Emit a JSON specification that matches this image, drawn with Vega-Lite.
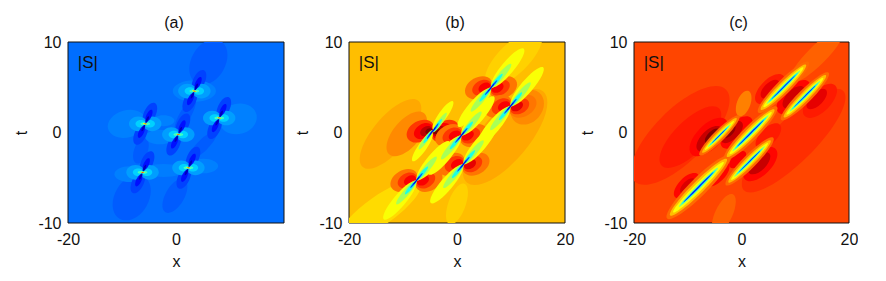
{"$schema":"https://vega.github.io/schema/vega-lite/v6.json","background":"white","padding":{"left":13,"top":15,"right":0,"bottom":0},"bounds":"flush","spacing":65,
"config":{"view":{"stroke":null},"font":"Liberation Sans","axis":{"grid":false,"labelFontSize":16,"titleFontSize":16,"titleFontWeight":"normal","labelColor":"#111","titleColor":"#111","tickSize":0,"labelPadding":7,"titlePadding":8,"domain":false,"labelFlush":false,"labelExpr":"replace(datum.label,'\u2212','-')"},"axisX":{"labelPadding":8,"titlePadding":6},"title":{"fontSize":16,"fontWeight":"normal","color":"#111","offset":3}},
"datasets":{
"bgA":[{"x":-20,"x2":20,"t":-10,"t2":10,"v":0.233}],
"bgB":[{"x":-20,"x2":20,"t":-10,"t2":10,"v":0.689}],
"bgC":[{"x":-20,"x2":20,"t":-10,"t2":10,"v":0.807}],
"lab":[{"x":-18.2,"t":7.7,"label":"|S|"}],
"a":[
{"x":6,"t":7.8,"len":4.5,"kind":"e7","deg":300,"v":0.215},{"x":-8.2,"t":-7.2,"len":4.5,"kind":"e7","deg":300,"v":0.215},{"x":-0.2,"t":-7,"len":3.5,"kind":"e5","deg":300,"v":0.215},{"x":1.7,"t":1.9,"len":3.5,"kind":"e3","deg":300,"v":0.215},{"x":5,"t":-1.4,"len":3.5,"kind":"e3","deg":315,"v":0.215},{"x":-6.5,"t":-2,"len":2.5,"kind":"e5","deg":290,"v":0.215},
{"x":-9.1,"t":0.96,"len":3.6,"kind":"e7","deg":345,"v":0.25},{"x":11.5,"t":1.5,"len":3.5,"kind":"e8","deg":345,"v":0.25},{"x":-8.5,"t":-4.6,"len":2.9,"kind":"e5","deg":0,"v":0.25},{"x":-2.3,"t":-4.2,"len":4,"kind":"e3","deg":0,"v":0.248},{"x":5.1,"t":-3.7,"len":2.7,"kind":"e5","deg":0,"v":0.25},{"x":3.4,"t":4.58,"len":4,"kind":"e5","deg":0,"v":0.25},{"x":-3,"t":-0.5,"len":2.7,"kind":"e5","deg":0,"v":0.25},{"x":-2.3,"t":1.3,"len":2,"kind":"e5","deg":0,"v":0.25},
{"x":-4.85,"t":2.06,"len":2.2,"kind":"e5","deg":295,"v":0.19},{"x":-6.55,"t":-0.14,"len":2.2,"kind":"e5","deg":295,"v":0.19},{"x":-7,"t":0.96,"len":1.7,"kind":"e8","deg":0,"v":0.28},{"x":-4.4,"t":0.96,"len":1.7,"kind":"e8","deg":0,"v":0.28},{"x":-6.5,"t":0.96,"len":1,"kind":"e7","deg":0,"v":0.33},{"x":-4.9,"t":0.96,"len":1,"kind":"e7","deg":0,"v":0.33},{"x":-6.1,"t":0.96,"len":0.5,"kind":"e5","deg":0,"v":0.45},{"x":-5.3,"t":0.96,"len":0.5,"kind":"e5","deg":0,"v":0.45},{"x":-5,"t":1.86,"len":1.2,"kind":"e4","deg":295,"v":0.14},{"x":-6.4,"t":0.06,"len":1.2,"kind":"e4","deg":295,"v":0.14},{"x":-5.35,"t":1.41,"len":0.7,"kind":"e3","deg":295,"v":0.06},{"x":-6.05,"t":0.51,"len":0.7,"kind":"e3","deg":295,"v":0.06},{"x":-5.7,"t":0.96,"len":0.7,"kind":"e3","deg":10,"v":0.4},{"x":-5.7,"t":0.96,"len":0.45,"kind":"e25","deg":10,"v":0.62},{"x":-5.7,"t":0.96,"len":0.25,"kind":"e25","deg":10,"v":0.85},
{"x":4.25,"t":5.68,"len":2.2,"kind":"e5","deg":295,"v":0.19},{"x":2.55,"t":3.48,"len":2.2,"kind":"e5","deg":295,"v":0.19},{"x":2.1,"t":4.58,"len":1.7,"kind":"e8","deg":0,"v":0.28},{"x":4.7,"t":4.58,"len":1.7,"kind":"e8","deg":0,"v":0.28},{"x":2.6,"t":4.58,"len":1,"kind":"e7","deg":0,"v":0.33},{"x":4.2,"t":4.58,"len":1,"kind":"e7","deg":0,"v":0.33},{"x":3,"t":4.58,"len":0.5,"kind":"e5","deg":0,"v":0.45},{"x":3.8,"t":4.58,"len":0.5,"kind":"e5","deg":0,"v":0.45},{"x":4.1,"t":5.48,"len":1.2,"kind":"e4","deg":295,"v":0.14},{"x":2.7,"t":3.68,"len":1.2,"kind":"e4","deg":295,"v":0.14},{"x":3.75,"t":5.03,"len":0.7,"kind":"e3","deg":295,"v":0.06},{"x":3.05,"t":4.13,"len":0.7,"kind":"e3","deg":295,"v":0.06},{"x":3.4,"t":4.58,"len":0.7,"kind":"e3","deg":10,"v":0.4},{"x":3.4,"t":4.58,"len":0.45,"kind":"e25","deg":10,"v":0.62},{"x":3.4,"t":4.58,"len":0.25,"kind":"e25","deg":10,"v":0.85},
{"x":8.85,"t":2.7,"len":2.2,"kind":"e5","deg":295,"v":0.19},{"x":7.15,"t":0.5,"len":2.2,"kind":"e5","deg":295,"v":0.19},{"x":6.7,"t":1.6,"len":1.7,"kind":"e8","deg":0,"v":0.28},{"x":9.3,"t":1.6,"len":1.7,"kind":"e8","deg":0,"v":0.28},{"x":7.2,"t":1.6,"len":1,"kind":"e7","deg":0,"v":0.33},{"x":8.8,"t":1.6,"len":1,"kind":"e7","deg":0,"v":0.33},{"x":7.6,"t":1.6,"len":0.5,"kind":"e5","deg":0,"v":0.45},{"x":8.4,"t":1.6,"len":0.5,"kind":"e5","deg":0,"v":0.45},{"x":8.7,"t":2.5,"len":1.2,"kind":"e4","deg":295,"v":0.14},{"x":7.3,"t":0.7,"len":1.2,"kind":"e4","deg":295,"v":0.14},{"x":8.35,"t":2.05,"len":0.7,"kind":"e3","deg":295,"v":0.06},{"x":7.65,"t":1.15,"len":0.7,"kind":"e3","deg":295,"v":0.06},{"x":8,"t":1.6,"len":0.7,"kind":"e3","deg":10,"v":0.4},{"x":8,"t":1.6,"len":0.45,"kind":"e25","deg":10,"v":0.62},{"x":8,"t":1.6,"len":0.25,"kind":"e25","deg":10,"v":0.85},
{"x":1.28,"t":0.88,"len":2.2,"kind":"e5","deg":295,"v":0.19},{"x":-0.42,"t":-1.32,"len":2.2,"kind":"e5","deg":295,"v":0.19},{"x":-0.87,"t":-0.22,"len":1.7,"kind":"e8","deg":0,"v":0.28},{"x":1.73,"t":-0.22,"len":1.7,"kind":"e8","deg":0,"v":0.28},{"x":-0.37,"t":-0.22,"len":1,"kind":"e7","deg":0,"v":0.33},{"x":1.23,"t":-0.22,"len":1,"kind":"e7","deg":0,"v":0.33},{"x":0.03,"t":-0.22,"len":0.5,"kind":"e5","deg":0,"v":0.45},{"x":0.83,"t":-0.22,"len":0.5,"kind":"e5","deg":0,"v":0.45},{"x":1.13,"t":0.68,"len":1.2,"kind":"e4","deg":295,"v":0.14},{"x":-0.27,"t":-1.12,"len":1.2,"kind":"e4","deg":295,"v":0.14},{"x":0.78,"t":0.23,"len":0.7,"kind":"e3","deg":295,"v":0.06},{"x":0.08,"t":-0.67,"len":0.7,"kind":"e3","deg":295,"v":0.06},{"x":0.43,"t":-0.22,"len":0.7,"kind":"e3","deg":10,"v":0.4},{"x":0.43,"t":-0.22,"len":0.45,"kind":"e25","deg":10,"v":0.62},{"x":0.43,"t":-0.22,"len":0.25,"kind":"e25","deg":10,"v":0.85},
{"x":-5.35,"t":-3.3,"len":2.2,"kind":"e5","deg":295,"v":0.19},{"x":-7.05,"t":-5.5,"len":2.2,"kind":"e5","deg":295,"v":0.19},{"x":-7.5,"t":-4.4,"len":1.7,"kind":"e8","deg":0,"v":0.28},{"x":-4.9,"t":-4.4,"len":1.7,"kind":"e8","deg":0,"v":0.28},{"x":-7,"t":-4.4,"len":1,"kind":"e7","deg":0,"v":0.33},{"x":-5.4,"t":-4.4,"len":1,"kind":"e7","deg":0,"v":0.33},{"x":-6.6,"t":-4.4,"len":0.5,"kind":"e5","deg":0,"v":0.45},{"x":-5.8,"t":-4.4,"len":0.5,"kind":"e5","deg":0,"v":0.45},{"x":-5.5,"t":-3.5,"len":1.2,"kind":"e4","deg":295,"v":0.14},{"x":-6.9,"t":-5.3,"len":1.2,"kind":"e4","deg":295,"v":0.14},{"x":-5.85,"t":-3.95,"len":0.7,"kind":"e3","deg":295,"v":0.06},{"x":-6.55,"t":-4.85,"len":0.7,"kind":"e3","deg":295,"v":0.06},{"x":-6.2,"t":-4.4,"len":0.7,"kind":"e3","deg":10,"v":0.4},{"x":-6.2,"t":-4.4,"len":0.45,"kind":"e25","deg":10,"v":0.62},{"x":-6.2,"t":-4.4,"len":0.25,"kind":"e25","deg":10,"v":0.85},
{"x":3.15,"t":-2.8,"len":2.2,"kind":"e5","deg":295,"v":0.19},{"x":1.45,"t":-5,"len":2.2,"kind":"e5","deg":295,"v":0.19},{"x":1,"t":-3.9,"len":1.7,"kind":"e8","deg":0,"v":0.28},{"x":3.6,"t":-3.9,"len":1.7,"kind":"e8","deg":0,"v":0.28},{"x":1.5,"t":-3.9,"len":1,"kind":"e7","deg":0,"v":0.33},{"x":3.1,"t":-3.9,"len":1,"kind":"e7","deg":0,"v":0.33},{"x":1.9,"t":-3.9,"len":0.5,"kind":"e5","deg":0,"v":0.45},{"x":2.7,"t":-3.9,"len":0.5,"kind":"e5","deg":0,"v":0.45},{"x":3,"t":-3,"len":1.2,"kind":"e4","deg":295,"v":0.14},{"x":1.6,"t":-4.8,"len":1.2,"kind":"e4","deg":295,"v":0.14},{"x":2.65,"t":-3.45,"len":0.7,"kind":"e3","deg":295,"v":0.06},{"x":1.95,"t":-4.35,"len":0.7,"kind":"e3","deg":295,"v":0.06},{"x":2.3,"t":-3.9,"len":0.7,"kind":"e3","deg":10,"v":0.4},{"x":2.3,"t":-3.9,"len":0.45,"kind":"e25","deg":10,"v":0.62},{"x":2.3,"t":-3.9,"len":0.25,"kind":"e25","deg":10,"v":0.85}
],
"b":[
{"x":-12.3,"t":-0.15,"len":8,"kind":"e4","deg":310,"v":0.71},{"x":8.9,"t":-0.5,"len":11,"kind":"e4","deg":310,"v":0.71},{"x":-9.3,"t":-0.15,"len":5,"kind":"e5","deg":310,"v":0.74},{"x":13,"t":2.8,"len":3.5,"kind":"e8","deg":310,"v":0.74},{"x":-14.2,"t":-8.6,"len":9,"kind":"e3","deg":325,"v":0.66},{"x":10.5,"t":8.2,"len":7,"kind":"e4","deg":315,"v":0.67},{"x":0,"t":-7.9,"len":4,"kind":"e4","deg":290,"v":0.67},
{"x":-6.8,"t":0.15,"len":2.7,"kind":"e7","deg":330,"v":0.82},{"x":-2.2,"t":0.15,"len":2.7,"kind":"e7","deg":330,"v":0.82},{"x":-6.2,"t":0.15,"len":1.9,"kind":"e7","deg":330,"v":0.88},{"x":-2.8,"t":0.15,"len":1.9,"kind":"e7","deg":330,"v":0.88},{"x":-5.7,"t":0.15,"len":1.2,"kind":"e7","deg":330,"v":0.94},{"x":-3.3,"t":0.15,"len":1.2,"kind":"e7","deg":330,"v":0.94},{"x":-5.2,"t":0.15,"len":0.7,"kind":"e7","deg":330,"v":1},{"x":-3.8,"t":0.15,"len":0.7,"kind":"e7","deg":330,"v":1},
{"x":4,"t":4.95,"len":2.7,"kind":"e7","deg":330,"v":0.76},{"x":8.6,"t":4.95,"len":2.7,"kind":"e7","deg":330,"v":0.76},{"x":4.6,"t":4.95,"len":1.9,"kind":"e7","deg":330,"v":0.82},{"x":8,"t":4.95,"len":1.9,"kind":"e7","deg":330,"v":0.82},{"x":5.1,"t":4.95,"len":1.2,"kind":"e7","deg":330,"v":0.88},{"x":7.5,"t":4.95,"len":1.2,"kind":"e7","deg":330,"v":0.88},
{"x":7.6,"t":2.9,"len":2.7,"kind":"e7","deg":330,"v":0.76},{"x":12.2,"t":2.9,"len":2.7,"kind":"e7","deg":330,"v":0.76},{"x":8.2,"t":2.9,"len":1.9,"kind":"e7","deg":330,"v":0.82},{"x":11.6,"t":2.9,"len":1.9,"kind":"e7","deg":330,"v":0.82},{"x":8.7,"t":2.9,"len":1.2,"kind":"e7","deg":330,"v":0.88},{"x":11.1,"t":2.9,"len":1.2,"kind":"e7","deg":330,"v":0.9},
{"x":-1.5,"t":-0.33,"len":2.7,"kind":"e7","deg":330,"v":0.76},{"x":3.1,"t":-0.33,"len":2.7,"kind":"e7","deg":330,"v":0.76},{"x":-0.9,"t":-0.33,"len":1.9,"kind":"e7","deg":330,"v":0.82},{"x":2.5,"t":-0.33,"len":1.9,"kind":"e7","deg":330,"v":0.82},{"x":-0.4,"t":-0.33,"len":1.2,"kind":"e7","deg":330,"v":0.88},{"x":2,"t":-0.33,"len":1.2,"kind":"e7","deg":330,"v":0.88},
{"x":-9.8,"t":-5.3,"len":2.7,"kind":"e7","deg":330,"v":0.76},{"x":-5.2,"t":-5.3,"len":2.7,"kind":"e7","deg":330,"v":0.76},{"x":-9.2,"t":-5.3,"len":1.9,"kind":"e7","deg":330,"v":0.82},{"x":-5.8,"t":-5.3,"len":1.9,"kind":"e7","deg":330,"v":0.82},{"x":-8.7,"t":-5.3,"len":1.2,"kind":"e7","deg":330,"v":0.88},{"x":-6.3,"t":-5.3,"len":1.2,"kind":"e7","deg":330,"v":0.88},
{"x":-1.1,"t":-3.5,"len":2.7,"kind":"e7","deg":330,"v":0.76},{"x":3.5,"t":-3.5,"len":2.7,"kind":"e7","deg":330,"v":0.76},{"x":-0.5,"t":-3.5,"len":1.9,"kind":"e7","deg":330,"v":0.82},{"x":2.9,"t":-3.5,"len":1.9,"kind":"e7","deg":330,"v":0.82},{"x":0,"t":-3.5,"len":1.2,"kind":"e7","deg":330,"v":0.88},{"x":2.4,"t":-3.5,"len":1.2,"kind":"e7","deg":330,"v":0.9},
{"x":-2.6,"t":1.9,"len":3.2,"kind":"e25","deg":305,"v":0.62},{"x":-6.4,"t":-1.6,"len":3.2,"kind":"e25","deg":305,"v":0.62},{"x":9.4,"t":7.15,"len":4.6,"kind":"e25","deg":310,"v":0.62},{"x":3.2,"t":2.75,"len":4.6,"kind":"e25","deg":310,"v":0.62},{"x":13,"t":5.1,"len":4.6,"kind":"e25","deg":310,"v":0.62},{"x":6.8,"t":0.7,"len":4.6,"kind":"e25","deg":310,"v":0.62},{"x":3.9,"t":1.87,"len":4.6,"kind":"e25","deg":310,"v":0.62},{"x":-2.3,"t":-2.53,"len":4.6,"kind":"e25","deg":310,"v":0.62},{"x":-4.4,"t":-3.1,"len":4.6,"kind":"e25","deg":310,"v":0.62},{"x":-10.6,"t":-7.5,"len":4.6,"kind":"e25","deg":310,"v":0.62},{"x":4.3,"t":-1.3,"len":4.6,"kind":"e25","deg":310,"v":0.62},{"x":-1.9,"t":-5.7,"len":4.6,"kind":"e25","deg":310,"v":0.62},
{"x":-3.2,"t":1.1,"len":2.2,"kind":"e2","deg":305,"v":0.54},{"x":-5.8,"t":-0.8,"len":2.2,"kind":"e2","deg":305,"v":0.54},{"x":8.15,"t":6.25,"len":2.9,"kind":"e2","deg":310,"v":0.54},{"x":4.45,"t":3.65,"len":2.9,"kind":"e2","deg":310,"v":0.54},{"x":11.75,"t":4.2,"len":2.9,"kind":"e2","deg":310,"v":0.54},{"x":8.05,"t":1.6,"len":2.9,"kind":"e2","deg":310,"v":0.54},{"x":2.65,"t":0.97,"len":2.9,"kind":"e2","deg":310,"v":0.54},{"x":-1.05,"t":-1.63,"len":2.9,"kind":"e2","deg":310,"v":0.54},{"x":-5.65,"t":-4,"len":2.9,"kind":"e2","deg":310,"v":0.54},{"x":-9.35,"t":-6.6,"len":2.9,"kind":"e2","deg":310,"v":0.54},{"x":3.05,"t":-2.2,"len":2.9,"kind":"e2","deg":310,"v":0.54},{"x":-0.65,"t":-4.8,"len":2.9,"kind":"e2","deg":310,"v":0.54},
{"x":-3.6,"t":0.8,"len":1.4,"kind":"e2","deg":305,"v":0.4},{"x":-5.4,"t":-0.5,"len":1.4,"kind":"e2","deg":305,"v":0.4},{"x":7.4,"t":5.75,"len":1.6,"kind":"e2","deg":310,"v":0.4},{"x":5.2,"t":4.15,"len":1.6,"kind":"e2","deg":310,"v":0.4},{"x":11,"t":3.7,"len":1.6,"kind":"e2","deg":310,"v":0.4},{"x":8.8,"t":2.1,"len":1.6,"kind":"e2","deg":310,"v":0.4},{"x":1.9,"t":0.47,"len":1.6,"kind":"e2","deg":310,"v":0.4},{"x":-0.3,"t":-1.13,"len":1.6,"kind":"e2","deg":310,"v":0.4},{"x":-6.4,"t":-4.5,"len":1.6,"kind":"e2","deg":310,"v":0.4},{"x":-8.6,"t":-6.1,"len":1.6,"kind":"e2","deg":310,"v":0.4},{"x":2.3,"t":-2.7,"len":1.6,"kind":"e2","deg":310,"v":0.4},{"x":0.1,"t":-4.3,"len":1.6,"kind":"e2","deg":310,"v":0.4},
{"x":-4,"t":0.52,"len":1,"kind":"e15","deg":305,"v":0.2},{"x":-5,"t":-0.22,"len":1,"kind":"e15","deg":305,"v":0.2},{"x":6.8,"t":5.32,"len":1,"kind":"e15","deg":310,"v":0.2},{"x":5.8,"t":4.58,"len":1,"kind":"e15","deg":310,"v":0.2},{"x":10.4,"t":3.27,"len":1,"kind":"e15","deg":310,"v":0.2},{"x":9.4,"t":2.53,"len":1,"kind":"e15","deg":310,"v":0.2},{"x":1.3,"t":0.04,"len":1,"kind":"e15","deg":310,"v":0.2},{"x":0.3,"t":-0.7,"len":1,"kind":"e15","deg":310,"v":0.2},{"x":-7,"t":-4.93,"len":1,"kind":"e15","deg":310,"v":0.2},{"x":-8,"t":-5.67,"len":1,"kind":"e15","deg":310,"v":0.2},{"x":1.7,"t":-3.13,"len":1,"kind":"e15","deg":310,"v":0.2},{"x":0.7,"t":-3.87,"len":1,"kind":"e15","deg":310,"v":0.2},
{"x":-4.25,"t":0.33,"len":0.55,"kind":"e15","deg":305,"v":0.08},{"x":-4.75,"t":-0.03,"len":0.55,"kind":"e15","deg":305,"v":0.08},{"x":6.55,"t":5.13,"len":0.55,"kind":"e15","deg":310,"v":0.08},{"x":6.05,"t":4.77,"len":0.55,"kind":"e15","deg":310,"v":0.08},{"x":10.15,"t":3.08,"len":0.55,"kind":"e15","deg":310,"v":0.08},{"x":9.65,"t":2.72,"len":0.55,"kind":"e15","deg":310,"v":0.08},{"x":1.05,"t":-0.15,"len":0.55,"kind":"e15","deg":310,"v":0.08},{"x":0.55,"t":-0.51,"len":0.55,"kind":"e15","deg":310,"v":0.08},{"x":-7.25,"t":-5.12,"len":0.55,"kind":"e15","deg":310,"v":0.08},{"x":-7.75,"t":-5.48,"len":0.55,"kind":"e15","deg":310,"v":0.08},{"x":1.45,"t":-3.32,"len":0.55,"kind":"e15","deg":310,"v":0.08},{"x":0.95,"t":-3.68,"len":0.55,"kind":"e15","deg":310,"v":0.08}
],
"c":[
{"x":-11.4,"t":-0.33,"len":12,"kind":"e4","deg":315,"v":0.83},{"x":9.7,"t":-0.9,"len":13,"kind":"e3","deg":315,"v":0.83},{"x":-9.5,"t":-0.5,"len":7.5,"kind":"e4","deg":315,"v":0.85},{"x":14,"t":8.5,"len":7,"kind":"e25","deg":315,"v":0.78},{"x":-3.3,"t":-9,"len":4,"kind":"e4","deg":295,"v":0.78},{"x":0.4,"t":3.2,"len":2.5,"kind":"e5","deg":290,"v":0.75},
{"x":-6.1,"t":-0.5,"len":4.5,"kind":"e5","deg":315,"v":0.87},{"x":-6,"t":-0.7,"len":3,"kind":"e5","deg":315,"v":0.93},{"x":-5.4,"t":-0.4,"len":1.8,"kind":"e5","deg":315,"v":1},{"x":-0.9,"t":0,"len":3.8,"kind":"e5","deg":315,"v":0.87},{"x":-1.8,"t":0.04,"len":2.6,"kind":"e5","deg":315,"v":0.93},{"x":-2.3,"t":0.1,"len":1.5,"kind":"e5","deg":315,"v":0.98},
{"x":5.3,"t":4.8,"len":3.5,"kind":"e5","deg":315,"v":0.85},{"x":5.3,"t":4.8,"len":2.2,"kind":"e5","deg":315,"v":0.9},{"x":9.7,"t":3.9,"len":4,"kind":"e5","deg":315,"v":0.87},{"x":9.7,"t":3.9,"len":2.6,"kind":"e5","deg":315,"v":0.92},{"x":14.6,"t":3.5,"len":4,"kind":"e5","deg":315,"v":0.85},{"x":14,"t":3.7,"len":2.4,"kind":"e5","deg":315,"v":0.9},
{"x":3.5,"t":-3.5,"len":4,"kind":"e5","deg":315,"v":0.87},{"x":3.3,"t":-3.4,"len":2.6,"kind":"e5","deg":315,"v":0.93},{"x":-0.7,"t":-3,"len":2,"kind":"e5","deg":315,"v":0.88},{"x":-10.2,"t":-5.9,"len":3,"kind":"e5","deg":315,"v":0.87},{"x":-10,"t":-5.9,"len":1.8,"kind":"e5","deg":315,"v":0.91},{"x":-4.6,"t":-4.6,"len":3,"kind":"e5","deg":315,"v":0.87},{"x":5,"t":-0.4,"len":3,"kind":"e5","deg":315,"v":0.85},
{"x":-4.1,"t":-0.33,"len":5.2,"kind":"e2","deg":315,"v":0.77},{"x":7.8,"t":5,"len":6.6,"kind":"e2","deg":315,"v":0.77},{"x":11.8,"t":4,"len":6.2,"kind":"e2","deg":315,"v":0.77},{"x":1.7,"t":-0.07,"len":6.9,"kind":"e2","deg":315,"v":0.77},{"x":-8,"t":-6.05,"len":8.2,"kind":"e2","deg":315,"v":0.77},{"x":1.5,"t":-3.2,"len":6.2,"kind":"e2","deg":315,"v":0.77},
{"x":-4.1,"t":-0.33,"len":4.5,"kind":"e15","deg":315,"v":0.69},{"x":7.8,"t":5,"len":5.9,"kind":"e15","deg":315,"v":0.69},{"x":11.8,"t":4,"len":5.5,"kind":"e15","deg":315,"v":0.69},{"x":1.7,"t":-0.07,"len":6.2,"kind":"e15","deg":315,"v":0.69},{"x":-8,"t":-6.05,"len":7.4,"kind":"e15","deg":315,"v":0.69},{"x":1.5,"t":-3.2,"len":5.5,"kind":"e15","deg":315,"v":0.69},
{"x":-4.1,"t":-0.33,"len":3.8,"kind":"e1","deg":315,"v":0.62},{"x":7.8,"t":5,"len":5.2,"kind":"e1","deg":315,"v":0.62},{"x":11.8,"t":4,"len":4.8,"kind":"e1","deg":315,"v":0.62},{"x":1.7,"t":-0.07,"len":5.5,"kind":"e1","deg":315,"v":0.62},{"x":-8,"t":-6.05,"len":6.6,"kind":"e1","deg":315,"v":0.62},{"x":1.5,"t":-3.2,"len":4.8,"kind":"e1","deg":315,"v":0.62},
{"x":-4.1,"t":-0.33,"len":3,"kind":"e08","deg":315,"v":0.5},{"x":7.8,"t":5,"len":4.4,"kind":"e08","deg":315,"v":0.5},{"x":11.8,"t":4,"len":4,"kind":"e08","deg":315,"v":0.5},{"x":1.7,"t":-0.07,"len":4.7,"kind":"e08","deg":315,"v":0.5},{"x":-8,"t":-6.05,"len":5.1,"kind":"e08","deg":315,"v":0.5},{"x":1.5,"t":-3.2,"len":4,"kind":"e08","deg":315,"v":0.5},
{"x":-4.1,"t":-0.33,"len":2.5,"kind":"e05","deg":315,"v":0.36},{"x":7.8,"t":5,"len":3.8,"kind":"e05","deg":315,"v":0.36},{"x":11.8,"t":4,"len":3.4,"kind":"e05","deg":315,"v":0.36},{"x":1.7,"t":-0.07,"len":4.1,"kind":"e05","deg":315,"v":0.36},{"x":-8,"t":-6.05,"len":4.5,"kind":"e05","deg":315,"v":0.36},{"x":1.5,"t":-3.2,"len":3.4,"kind":"e05","deg":315,"v":0.36},
{"x":-4.1,"t":-0.33,"len":1.9,"kind":"e03","deg":315,"v":0.15},{"x":7.8,"t":5,"len":3.2,"kind":"e03","deg":315,"v":0.15},{"x":11.8,"t":4,"len":2.8,"kind":"e03","deg":315,"v":0.15},{"x":1.7,"t":-0.07,"len":3.5,"kind":"e03","deg":315,"v":0.15},{"x":-8,"t":-6.05,"len":3.9,"kind":"e03","deg":315,"v":0.15},{"x":1.5,"t":-3.2,"len":2.8,"kind":"e03","deg":315,"v":0.15}
]},
"hconcat":[
{"width":216,"height":181,"title":{"text":"(a)","dx":-2},"layer":[
{"data":{"name":"bgA"},"mark":{"type":"rect","stroke":"#111","strokeWidth":1},"encoding":{"x":{"field":"x","type":"quantitative","scale":{"domain":[-20,20],"nice":false},"axis":{"values":[-20,0],"title":"x"}},"x2":{"field":"x2"},"y":{"field":"t","type":"quantitative","scale":{"domain":[-10,10],"nice":false},"axis":{"values":[-10,0,10],"title":"t"}},"y2":{"field":"t2"},"color":{"field":"v","type":"quantitative","legend":null,"scale":{"domain":[0,0.125,0.375,0.625,0.875,1],"range":["#000080","#0000ff","#00ffff","#ffff00","#ff0000","#800000"],"interpolate":"rgb"}}}},
{"data":{"name":"a"},"mark":{"type":"point","filled":true,"opacity":1,"clip":true,"strokeWidth":0},"encoding":{"x":{"field":"x","type":"quantitative"},"y":{"field":"t","type":"quantitative"},"size":{"field":"len","type":"quantitative","legend":null,"scale":{"type":"pow","exponent":2,"domain":[0,20],"range":[0,46656]}},"angle":{"field":"deg","type":"quantitative","scale":{"domain":[0,360],"range":[0,360]}},"shape":{"field":"kind","type":"nominal","legend":null,"scale":{"domain":["e03","e05","e08","e1","e15","e2","e25","e3","e4","e5","e7","e8"],"range":["M-1,0A1,.03 0 1,1 1,0A1,.03 0 1,1 -1,0Z","M-1,0A1,.05 0 1,1 1,0A1,.05 0 1,1 -1,0Z","M-1,0A1,.08 0 1,1 1,0A1,.08 0 1,1 -1,0Z","M-1,0A1,.11 0 1,1 1,0A1,.11 0 1,1 -1,0Z","M-1,0A1,.15 0 1,1 1,0A1,.15 0 1,1 -1,0Z","M-1,0A1,.2 0 1,1 1,0A1,.2 0 1,1 -1,0Z","M-1,0A1,.25 0 1,1 1,0A1,.25 0 1,1 -1,0Z","M-1,0A1,.3 0 1,1 1,0A1,.3 0 1,1 -1,0Z","M-1,0A1,.4 0 1,1 1,0A1,.4 0 1,1 -1,0Z","M-1,0A1,.5 0 1,1 1,0A1,.5 0 1,1 -1,0Z","M-1,0A1,.7 0 1,1 1,0A1,.7 0 1,1 -1,0Z","M-1,0A1,.8 0 1,1 1,0A1,.8 0 1,1 -1,0Z"]}},"color":{"field":"v","type":"quantitative"}}},
{"data":{"name":"lab"},"mark":{"type":"text","align":"left","baseline":"middle","fontSize":17,"color":"#111"},"encoding":{"x":{"field":"x","type":"quantitative"},"y":{"field":"t","type":"quantitative"},"text":{"field":"label"}}}]},
{"width":220,"height":181,"title":{"text":"(b)","dx":-4},"layer":[
{"data":{"name":"bgB"},"mark":{"type":"rect","stroke":"#111","strokeWidth":1},"encoding":{"x":{"field":"x","type":"quantitative","scale":{"domain":[-20,20],"nice":false,"range":[0,216]},"axis":{"values":[-20,0,20],"title":"x"}},"x2":{"field":"x2"},"y":{"field":"t","type":"quantitative","scale":{"domain":[-10,10],"nice":false},"axis":{"values":[-10,0,10],"title":"t"}},"y2":{"field":"t2"},"color":{"field":"v","type":"quantitative","legend":null,"scale":{"domain":[0,0.125,0.375,0.625,0.875,1],"range":["#000080","#0000ff","#00ffff","#ffff00","#ff0000","#800000"],"interpolate":"rgb"}}}},
{"data":{"name":"b"},"mark":{"type":"point","filled":true,"opacity":1,"clip":true,"strokeWidth":0},"encoding":{"x":{"field":"x","type":"quantitative"},"y":{"field":"t","type":"quantitative"},"size":{"field":"len","type":"quantitative","legend":null,"scale":{"type":"pow","exponent":2,"domain":[0,20],"range":[0,46656]}},"angle":{"field":"deg","type":"quantitative","scale":{"domain":[0,360],"range":[0,360]}},"shape":{"field":"kind","type":"nominal","legend":null,"scale":{"domain":["e03","e05","e08","e1","e15","e2","e25","e3","e4","e5","e7","e8"],"range":["M-1,0A1,.03 0 1,1 1,0A1,.03 0 1,1 -1,0Z","M-1,0A1,.05 0 1,1 1,0A1,.05 0 1,1 -1,0Z","M-1,0A1,.08 0 1,1 1,0A1,.08 0 1,1 -1,0Z","M-1,0A1,.11 0 1,1 1,0A1,.11 0 1,1 -1,0Z","M-1,0A1,.15 0 1,1 1,0A1,.15 0 1,1 -1,0Z","M-1,0A1,.2 0 1,1 1,0A1,.2 0 1,1 -1,0Z","M-1,0A1,.25 0 1,1 1,0A1,.25 0 1,1 -1,0Z","M-1,0A1,.3 0 1,1 1,0A1,.3 0 1,1 -1,0Z","M-1,0A1,.4 0 1,1 1,0A1,.4 0 1,1 -1,0Z","M-1,0A1,.5 0 1,1 1,0A1,.5 0 1,1 -1,0Z","M-1,0A1,.7 0 1,1 1,0A1,.7 0 1,1 -1,0Z","M-1,0A1,.8 0 1,1 1,0A1,.8 0 1,1 -1,0Z"]}},"color":{"field":"v","type":"quantitative"}}},
{"data":{"name":"lab"},"mark":{"type":"text","align":"left","baseline":"middle","fontSize":17,"color":"#111"},"encoding":{"x":{"field":"x","type":"quantitative"},"y":{"field":"t","type":"quantitative"},"text":{"field":"label"}}}]},
{"width":215,"height":181,"title":{"text":"(c)","dx":-3},"layer":[
{"data":{"name":"bgC"},"mark":{"type":"rect","stroke":"#111","strokeWidth":1},"encoding":{"x":{"field":"x","type":"quantitative","scale":{"domain":[-20,20],"nice":false},"axis":{"values":[-20,0,20],"title":"x"}},"x2":{"field":"x2"},"y":{"field":"t","type":"quantitative","scale":{"domain":[-10,10],"nice":false},"axis":{"values":[-10,0,10],"title":"t"}},"y2":{"field":"t2"},"color":{"field":"v","type":"quantitative","legend":null,"scale":{"domain":[0,0.125,0.375,0.625,0.875,1],"range":["#000080","#0000ff","#00ffff","#ffff00","#ff0000","#800000"],"interpolate":"rgb"}}}},
{"data":{"name":"c"},"mark":{"type":"point","filled":true,"opacity":1,"clip":true,"strokeWidth":0},"encoding":{"x":{"field":"x","type":"quantitative"},"y":{"field":"t","type":"quantitative"},"size":{"field":"len","type":"quantitative","legend":null,"scale":{"type":"pow","exponent":2,"domain":[0,20],"range":[0,46656]}},"angle":{"field":"deg","type":"quantitative","scale":{"domain":[0,360],"range":[0,360]}},"shape":{"field":"kind","type":"nominal","legend":null,"scale":{"domain":["e03","e05","e08","e1","e15","e2","e25","e3","e4","e5","e7","e8"],"range":["M-1,0A1,.03 0 1,1 1,0A1,.03 0 1,1 -1,0Z","M-1,0A1,.05 0 1,1 1,0A1,.05 0 1,1 -1,0Z","M-1,0A1,.08 0 1,1 1,0A1,.08 0 1,1 -1,0Z","M-1,0A1,.11 0 1,1 1,0A1,.11 0 1,1 -1,0Z","M-1,0A1,.15 0 1,1 1,0A1,.15 0 1,1 -1,0Z","M-1,0A1,.2 0 1,1 1,0A1,.2 0 1,1 -1,0Z","M-1,0A1,.25 0 1,1 1,0A1,.25 0 1,1 -1,0Z","M-1,0A1,.3 0 1,1 1,0A1,.3 0 1,1 -1,0Z","M-1,0A1,.4 0 1,1 1,0A1,.4 0 1,1 -1,0Z","M-1,0A1,.5 0 1,1 1,0A1,.5 0 1,1 -1,0Z","M-1,0A1,.7 0 1,1 1,0A1,.7 0 1,1 -1,0Z","M-1,0A1,.8 0 1,1 1,0A1,.8 0 1,1 -1,0Z"]}},"color":{"field":"v","type":"quantitative"}}},
{"data":{"name":"lab"},"mark":{"type":"text","align":"left","baseline":"middle","fontSize":17,"color":"#111"},"encoding":{"x":{"field":"x","type":"quantitative"},"y":{"field":"t","type":"quantitative"},"text":{"field":"label"}}}]}
]}
